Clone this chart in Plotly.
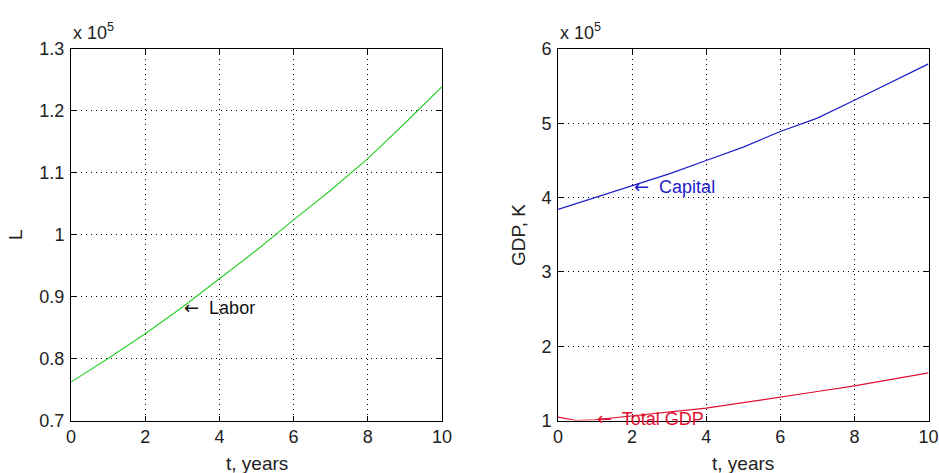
import plotly.graph_objects as go

# ---- data (values in units of 1e5) ----
t_years = [0, 1, 2, 3, 4, 5, 6, 7, 8, 9, 10]
labor = [0.762, 0.800, 0.840, 0.883, 0.929, 0.975, 1.024, 1.072, 1.123, 1.180, 1.239]
capital = [3.84, 4.00, 4.15, 4.32, 4.50, 4.68, 4.89, 5.07, 5.31, 5.55, 5.80]
t_gdp = [0, 0.5, 1, 2, 3, 4, 5, 6, 7, 8, 9, 10]
total_gdp = [1.045, 1.0, 1.01, 1.06, 1.11, 1.166, 1.24, 1.32, 1.39, 1.465, 1.55, 1.64]

x_ticks = [0, 2, 4, 6, 8, 10]
l_ticks = [0.7, 0.8, 0.9, 1.0, 1.1, 1.2, 1.3]
l_ticktext = ["0.7", "0.8", "0.9", "1", "1.1", "1.2", "1.3"]
k_ticks = [1, 2, 3, 4, 5, 6]
k_ticktext = ["1", "2", "3", "4", "5", "6"]

FONT = "Liberation Sans, Arial, sans-serif"
FS = 18
ARROW = "<span style='font-family:DejaVu Sans'>\u2190</span>"

W, H = 939, 473
left_dom = [71 / W, 442 / W]
right_dom = [558 / W, 928.5 / W]
y_dom = [1 - 420.5 / H, 1 - 49 / H]

fig = go.Figure()
fig.add_trace(go.Scatter(x=t_years, y=labor, mode="lines",
                         line=dict(color="#2ed12e", width=1.2),
                         xaxis="x", yaxis="y", showlegend=False))
fig.add_trace(go.Scatter(x=t_years, y=capital, mode="lines",
                         line=dict(color="#1c1cc8", width=1.2),
                         xaxis="x2", yaxis="y2", showlegend=False))
fig.add_trace(go.Scatter(x=t_gdp, y=total_gdp, mode="lines",
                         line=dict(color="#e01030", width=1.2),
                         xaxis="x2", yaxis="y2", showlegend=False))

common = dict(showline=True, linecolor="black", linewidth=1, mirror="allticks",
              ticks="inside", ticklen=5, tickcolor="black",
              showgrid=True, gridcolor="black", gridwidth=1, griddash="1px,4px",
              zeroline=False, tickfont=dict(family=FONT, size=FS, color="#222"),
              automargin=False)

fig.update_layout(
    width=W, height=H,
    margin=dict(l=0, r=0, t=0, b=0),
    paper_bgcolor="white", plot_bgcolor="white",
    font=dict(family=FONT, size=FS, color="#222"),
    xaxis=dict(domain=left_dom, range=[0, 10], tickvals=x_ticks, anchor="y", **common),
    yaxis=dict(domain=y_dom, range=[0.7, 1.3], tickvals=l_ticks, ticktext=l_ticktext,
               anchor="x", ticklabelstandoff=2, **common),
    xaxis2=dict(domain=right_dom, range=[0, 10], tickvals=x_ticks, anchor="y2", **common),
    yaxis2=dict(domain=y_dom, range=[1, 6], tickvals=k_ticks, ticktext=k_ticktext,
                anchor="x2", ticklabelstandoff=2, **common),
)

ann = []
# axis titles
ann.append(dict(text="t, years", xref="paper", yref="paper",
                x=sum(left_dom) / 2, y=1 - 463 / H, showarrow=False,
                xanchor="center", yanchor="middle", font=dict(size=19)))
ann.append(dict(text="t, years", xref="paper", yref="paper",
                x=sum(right_dom) / 2, y=1 - 463 / H, showarrow=False,
                xanchor="center", yanchor="middle", font=dict(size=19)))
ann.append(dict(text="L", xref="paper", yref="paper",
                x=15 / W, y=1 - 235 / H, showarrow=False, textangle=-90,
                xanchor="center", yanchor="middle", font=dict(size=19)))
ann.append(dict(text="GDP, K", xref="paper", yref="paper",
                x=518 / W, y=1 - 235 / H, showarrow=False, textangle=-90,
                xanchor="center", yanchor="middle", font=dict(size=19)))
# exponent labels
ann.append(dict(text="x 10<sup>5</sup>", xref="paper", yref="paper",
                x=left_dom[0], y=y_dom[1], showarrow=False, yshift=4,
                xanchor="left", yanchor="bottom", font=dict(size=18)))
ann.append(dict(text="x 10<sup>5</sup>", xref="paper", yref="paper",
                x=right_dom[0], y=y_dom[1], showarrow=False, yshift=4,
                xanchor="left", yanchor="bottom", font=dict(size=18)))
# curve labels
ann.append(dict(text=ARROW + "  Labor", xref="x", yref="y", x=t_years[3], y=labor[3],
                showarrow=False, xanchor="left", yanchor="middle",
                font=dict(size=FS, color="#111")))
ann.append(dict(text=ARROW + "  Capital", xref="x2", yref="y2", x=t_years[2], y=capital[2],
                showarrow=False, xanchor="left", yanchor="middle",
                font=dict(size=FS, color="#1c1cc8")))
ann.append(dict(text=ARROW + "  Total GDP", xref="x2", yref="y2", x=t_gdp[2], y=total_gdp[2],
                showarrow=False, xanchor="left", yanchor="middle", yshift=1,
                font=dict(size=FS, color="#e01030")))
fig.update_layout(annotations=ann)

fig.write_html("out.html")
